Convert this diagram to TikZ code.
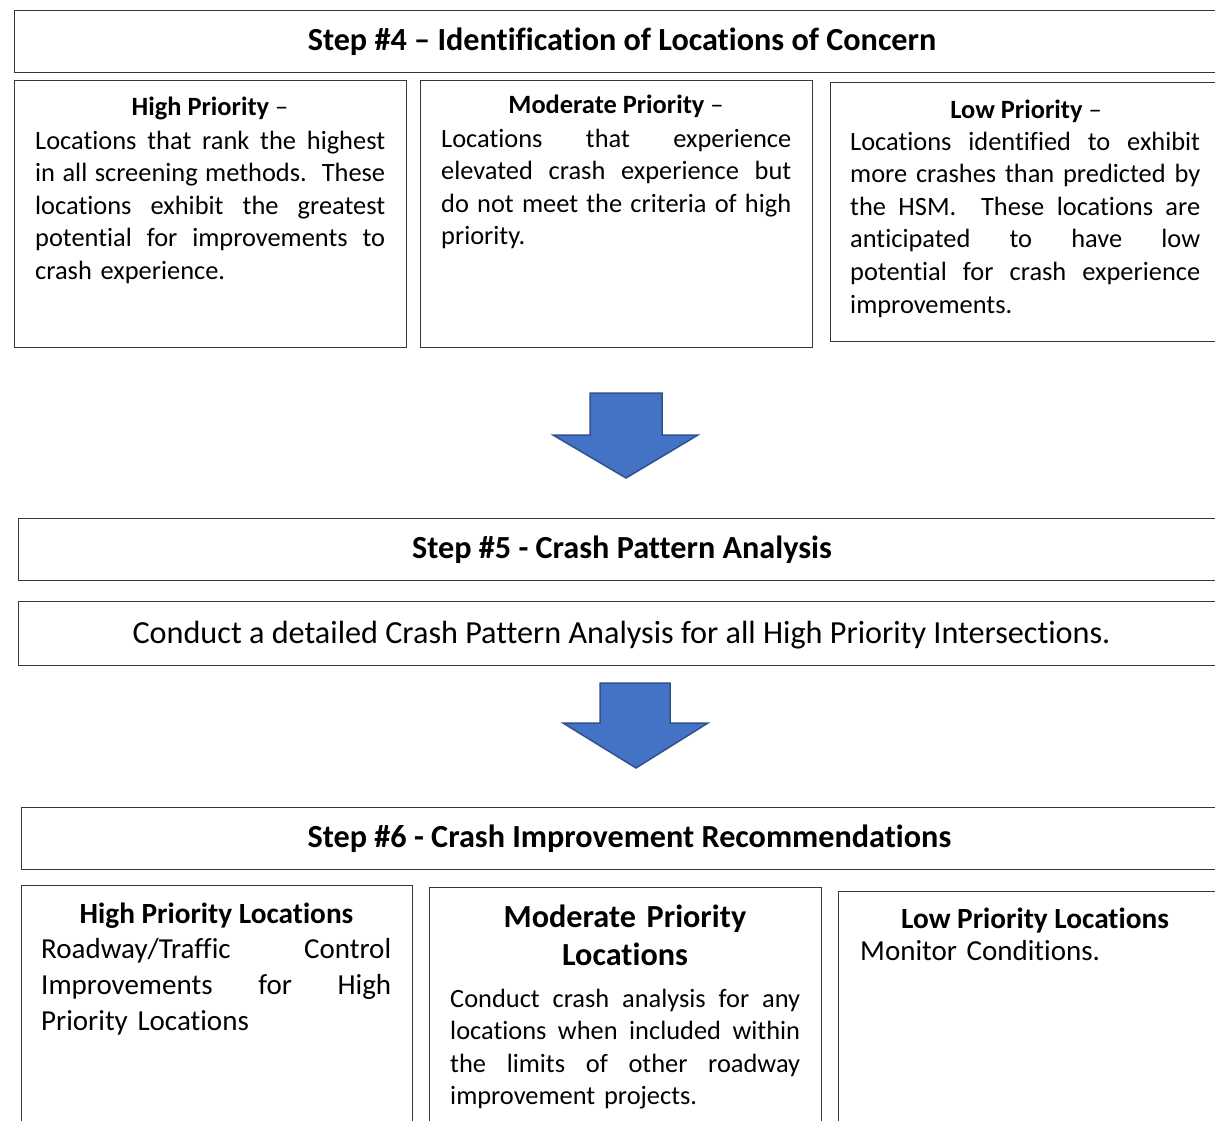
\documentclass[tikz,border=0pt]{standalone}
\usepackage{fontspec}
\setmainfont{Carlito}[Ligatures=NoCommon]
% one line of a justified paragraph, spread to the full column width
\newcommand{\jl}[1]{{\spaceskip=\fontdimen2\font plus 1fil\relax
  \xspaceskip=\spaceskip\makebox[350pt][s]{#1}}}
\begin{document}
\begin{tikzpicture}[x=1pt,y=-1pt,
  frame/.style={draw=black!78, line width=1.4pt, fill=white, inner sep=0pt, anchor=north west},
  steptitle/.style={anchor=base, inner sep=0pt, font=\fontsize{32.2}{38}\selectfont\bfseries},
  boxhead/.style={anchor=base, inner sep=0pt, font=\fontsize{26.4}{32.5}\selectfont},
  boxbody/.style={anchor=base west, inner sep=0pt, align=left, text width=350pt, font=\fontsize{26.4}{32.6}\selectfont},
  bighead/.style={anchor=base, inner sep=0pt, font=\fontsize{29.3}{38}\selectfont\bfseries},
  twohead/.style={anchor=base, inner sep=0pt, align=center, text width=392pt, font=\fontsize{32.2}{38.5}\selectfont\bfseries},
  bigbody/.style={anchor=base west, inner sep=0pt, align=left, text width=350pt, font=\fontsize{29}{36}\selectfont},
  blockarrow/.style={fill=arrowfill, draw=arrowline, line width=1.5pt, line join=miter}]
\definecolor{arrowfill}{HTML}{4472C4}
\definecolor{arrowline}{HTML}{2F528F}
\useasboundingbox (0,0) rectangle (1215,1120);
\clip (0,0) rectangle (1215,1120);

% ---------------- Step 4 ----------------
\node[frame, minimum width=1250pt, minimum height=62pt] (s4) at (14,10) {};
\node[steptitle] (s4t) at (622,50) {Step \#4 – Identification of Locations of Concern};

\node[frame, minimum width=392pt, minimum height=267pt] (hp) at (14,80) {};
\node[boxhead] (hpt) at (210,115) {\textbf{High Priority} –};
\node[boxbody] (hpb) at (35,149) {\jl{Locations that rank the highest}\\
  \jl{in all screening methods.\ \ These}\\
  \jl{locations exhibit the greatest}\\
  \jl{potential for improvements to}\\
  crash experience.};

\node[frame, minimum width=392pt, minimum height=267pt] (mp) at (420,80) {};
\node[boxhead] (mpt) at (616,113) {\textbf{Moderate Priority} –};
\node[boxbody] (mpb) at (441,147) {\jl{Locations that experience}\\
  \jl{elevated crash experience but}\\
  \jl{do not meet the criteria of high}\\
  priority.};

\node[frame, minimum width=400pt, minimum height=259pt] (lp) at (830,82) {};
\node[boxhead] (lpt) at (1026,118) {\textbf{Low Priority} –};
\node[boxbody] (lpb) at (850,150) {\jl{Locations identified to exhibit}\\
  \jl{more crashes than predicted by}\\
  \jl{the HSM.\ \ These locations are}\\
  \jl{anticipated to have low}\\
  \jl{potential for crash experience}\\
  improvements.};

% arrow from step 4 to step 5
\draw[blockarrow] (590,393) -- (662,393) -- (662,435) -- (698,435) -- (626,478)
  -- (553,435) -- (590,435) -- cycle;

% ---------------- Step 5 ----------------
\node[frame, minimum width=1220pt, minimum height=62pt] (s5) at (18,518) {};
\node[steptitle] (s5t) at (622,558) {Step \#5 - Crash Pattern Analysis};

\node[frame, minimum width=1220pt, minimum height=64pt] (cp) at (18,601) {};
\node[anchor=base, inner sep=0pt, font=\fontsize{32.2}{38}\selectfont] (cpt) at (621.5,643)
  {Conduct a detailed Crash Pattern Analysis for all High Priority Intersections.};

% arrow from step 5 to step 6
\draw[blockarrow] (600,683) -- (670,683) -- (670,723) -- (708,723) -- (636,768)
  -- (563,723) -- (600,723) -- cycle;

% ---------------- Step 6 ----------------
\node[frame, minimum width=1260pt, minimum height=62pt] (s6) at (21,807) {};
\node[steptitle] (s6t) at (629.5,847) {Step \#6 - Crash Improvement Recommendations};

\node[frame, minimum width=391pt, minimum height=260pt] (hl) at (21,885) {};
\node[bighead] (hlt) at (216.5,923) {High Priority Locations};
\node[bigbody] (hlb) at (41,958) {\jl{Roadway/Traffic Control}\\
  \jl{Improvements for High}\\
  Priority Locations};

\node[frame, minimum width=392pt, minimum height=260pt] (ml) at (429,887) {};
\node[twohead] (mlt) at (625,927) {Moderate Priority\\Locations};
\node[boxbody] (mlb) at (450,1007) {\jl{Conduct crash analysis for any}\\
  \jl{locations when included within}\\
  \jl{the limits of other roadway}\\
  improvement projects.};

\node[frame, minimum width=400pt, minimum height=260pt] (ll) at (838,891) {};
\node[bighead] (llt) at (1035,928) {Low Priority Locations};
\node[bigbody] (llb) at (860,960) {Monitor Conditions.};
\end{tikzpicture}
\end{document}
